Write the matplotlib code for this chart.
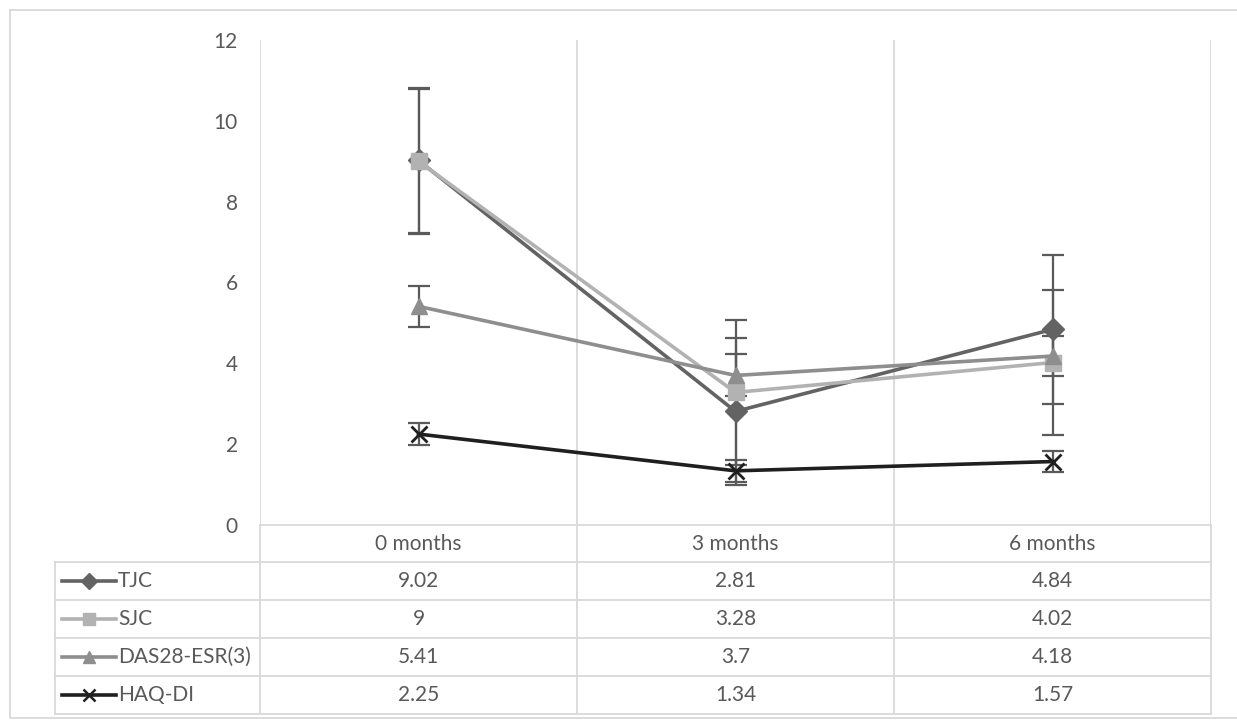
import matplotlib.pyplot as plt
import numpy as np

plt.rcParams['font.family'] = ['Lato', 'DejaVu Sans']

# data
categories = ['0 months', '3 months', '6 months']
series_names = ['TJC', 'SJC', 'DAS28-ESR(3)', 'HAQ-DI']
tjc = [9.02, 2.81, 4.84]
sjc = [9, 3.28, 4.02]
das28 = [5.41, 3.7, 4.18]
haq = [2.25, 1.34, 1.57]
tjc_err = [1.8, 1.82, 1.84]
sjc_err = [1.8, 1.79, 1.79]
das28_err = [0.5, 0.52, 0.5]
haq_err = [0.27, 0.27, 0.27]
yticks = [0, 2, 4, 6, 8, 10, 12]

values = [tjc, sjc, das28, haq]
errors = [tjc_err, sjc_err, das28_err, haq_err]
colors = ['#636363', '#b2b2b2', '#8e8e8e', '#1f1f1f']
markers = ['D', 's', '^', 'x']
text_col = '#595959'
grid_col = '#d9d9d9'

W, H = 1237, 720
fig = plt.figure(figsize=(W / 100, H / 100), dpi=100)

# overlay axes in pixel coordinates for the border and the data table
ov = fig.add_axes([0, 0, 1, 1])
ov.set_xlim(0, W)
ov.set_ylim(H, 0)
ov.axis('off')

# plot area
left, right, top, bottom = 260, 1211, 40, 525
ax = fig.add_axes([left / W, (H - bottom) / H, (right - left) / W, (bottom - top) / H])
x = np.arange(len(categories))
ax.set_xlim(-0.5, len(categories) - 0.5)
ax.set_ylim(0, 12)
ax.set_yticks(yticks)
ax.set_yticklabels([str(t) for t in yticks], fontsize=15, color=text_col)
ax.tick_params(axis='y', length=0, pad=16)
ax.set_xticks([])
for s in ax.spines.values():
    s.set_visible(False)
ax.patch.set_alpha(0)
for b in np.arange(-0.5, len(categories), 1.0):
    ax.axvline(b, color=grid_col, lw=1.3, zorder=0)

for vals, errs in zip(values, errors):
    ax.errorbar(x, vals, yerr=errs, fmt='none', ecolor='#5a5a5a', elinewidth=1.6,
                capsize=8, capthick=1.6, zorder=2)
for vals, c, m in zip(values, colors, markers):
    if m == 'x':
        ax.plot(x, vals, color=c, lw=2.6, marker=m, markersize=11, mew=2, zorder=3)
    else:
        ax.plot(x, vals, color=c, lw=2.6, marker=m, markersize=11, zorder=3)

# outer border
ov.plot([10, W + 5, W + 5, 10, 10], [10, 10, 718, 718, 10], color=grid_col, lw=1.3)

# data table
row_h = 38
tab_left = 55
header_top = bottom
rows_top = header_top + 37
col_w = (right - left) / len(categories)
ov.plot([left, right], [header_top, header_top], color=grid_col, lw=1.3)
for i in range(len(series_names) + 1):
    yy = rows_top + i * row_h
    ov.plot([tab_left, right], [yy, yy], color=grid_col, lw=1.3)
table_bottom = rows_top + len(series_names) * row_h
ov.plot([tab_left, tab_left], [rows_top, table_bottom], color=grid_col, lw=1.3)
for j in range(len(categories) + 1):
    xx = left + j * col_w
    ov.plot([xx, xx], [header_top, table_bottom], color=grid_col, lw=1.3)

for j, cat in enumerate(categories):
    ov.text(left + (j + 0.5) * col_w, header_top + 18.5, cat, ha='center', va='center',
            fontsize=15, color=text_col)

for i, name in enumerate(series_names):
    yc = rows_top + (i + 0.5) * row_h
    ov.plot([62, 116], [yc, yc], color=colors[i], lw=2.6)
    if markers[i] == 'x':
        ov.plot([89], [yc], linestyle='none', color=colors[i], marker='x', markersize=8, mew=1.8)
    else:
        ov.plot([89], [yc], linestyle='none', color=colors[i], marker=markers[i], markersize=8)
    ov.text(118, yc, name, ha='left', va='center', fontsize=15, color=text_col)
    for j, v in enumerate(values[i]):
        ov.text(left + (j + 0.5) * col_w, yc, f'{v:g}', ha='center', va='center',
                fontsize=15, color=text_col)

fig.savefig('out.png', dpi=100)
